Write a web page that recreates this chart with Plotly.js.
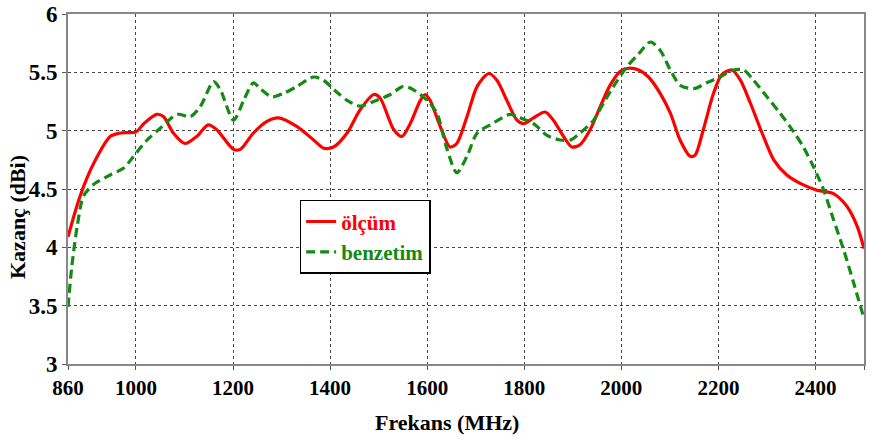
<!DOCTYPE html>
<html><head><meta charset="utf-8">
<script src="https://cdn.plot.ly/plotly-3.0.1.min.js"></script>
<style>body{margin:0;background:#fff}#chart{width:884px;height:441px}
#chart text, #chart tspan { font-family: 'Liberation Serif', serif !important; }</style>
</head><body><div id="chart"></div>
<script>
const olcumX = [860,885,913,947,968,1000,1016,1043,1057,1077,1101,1125,1149,1166,1201,1215,1242,1270,1294,1332,1366,1387,1407,1435,1462,1490,1503,1531,1548,1565,1586,1596,1606,1627,1647,1661,1682,1703,1727,1744,1764,1785,1799,1819,1843,1860,1881,1898,1915,1936,1957,1977,1998,2015,2036,2056,2080,2101,2121,2142,2152,2169,2190,2207,2228,2245,2266,2290,2314,2341,2375,2403,2437,2465,2486,2500];
const olcumY = [4.09,4.44,4.72,4.95,4.98,4.99,5.06,5.14,5.12,4.98,4.89,4.95,5.05,5.01,4.84,4.84,4.98,5.08,5.11,5.035,4.92,4.85,4.86,4.98,5.18,5.31,5.28,5.01,4.95,5.06,5.26,5.31,5.26,5.035,4.86,4.89,5.12,5.38,5.49,5.43,5.26,5.09,5.06,5.11,5.16,5.09,4.95,4.86,4.88,5.01,5.21,5.39,5.51,5.535,5.52,5.46,5.32,5.15,4.92,4.78,4.79,5.01,5.32,5.48,5.52,5.435,5.235,4.98,4.75,4.62,4.535,4.49,4.46,4.35,4.18,3.99];
const benzetimX = [860,868,879,892,913,947,975,995,1023,1050,1085,1112,1133,1160,1174,1201,1222,1242,1256,1280,1304,1332,1366,1387,1414,1435,1462,1490,1524,1551,1572,1600,1620,1641,1661,1682,1703,1730,1771,1791,1819,1847,1874,1895,1915,1943,1963,1984,2012,2036,2060,2080,2101,2121,2149,2176,2203,2231,2252,2272,2300,2327,2355,2375,2396,2417,2437,2458,2479,2500];
const benzetimY = [3.49,3.84,4.18,4.44,4.54,4.62,4.68,4.78,4.92,5.02,5.14,5.12,5.21,5.42,5.35,5.09,5.26,5.41,5.36,5.29,5.32,5.38,5.46,5.43,5.33,5.26,5.21,5.25,5.31,5.38,5.35,5.26,5.15,4.84,4.64,4.78,4.98,5.05,5.14,5.11,5.06,4.96,4.92,4.92,4.98,5.09,5.235,5.38,5.55,5.66,5.76,5.69,5.52,5.39,5.36,5.41,5.46,5.52,5.52,5.435,5.29,5.15,4.99,4.86,4.69,4.49,4.24,3.98,3.69,3.39];
const xTicks = [860,1000,1200,1400,1600,1800,2000,2200,2400,2500];
const yTicks = [3,3.5,4,4.5,5,5.5,6];
const seriesNames = ['ölçüm','benzetim'];

const serifFam = 'Liberation Serif';
const traces = [
  {x: olcumX, y: olcumY, type:'scatter', mode:'lines',
   name: '<span style="color:#ff0000"><b>'+seriesNames[0]+'</b></span>',
   line:{color:'#ff0000', width:3.2, shape:'spline', smoothing:0.8}},
  {x: benzetimX, y: benzetimY, type:'scatter', mode:'lines',
   name: '<span style="color:#138a13"><b>'+seriesNames[1]+'</b></span>',
   line:{color:'#138a13', width:3.2, dash:'9px,5px', shape:'spline', smoothing:0.8}}
];
const layout = {
  width:884, height:441,
  margin:{l:68, r:20, t:14, b:77},
  paper_bgcolor:'#fff', plot_bgcolor:'#fff',
  font:{family:serifFam, color:'#000'},
  showlegend:true,
  legend:{x:0.291, y:0.469, xanchor:'left', yanchor:'top',
    bgcolor:'#fff', bordercolor:'#000', borderwidth:1.5,
    font:{family:serifFam, size:21, color:'#000'}, tracegroupgap:4, itemwidth:30},
  xaxis:{range:[860,2500], tickmode:'array', tickvals:xTicks,
    ticktext:xTicks.map(v=>'<b>'+v+'</b>'),
    tickfont:{family:serifFam, size:21, color:'#000'}, ticks:'outside', ticklen:4, tickcolor:'#555',
    showgrid:true, gridcolor:'#444', griddash:'dot', gridwidth:1,
    showline:true, linecolor:'#888', linewidth:2, mirror:true, zeroline:false},
  yaxis:{range:[3,6], tickmode:'array', tickvals:yTicks,
    ticktext:yTicks.map(v=>'<b>'+v+'</b>'),
    tickfont:{family:serifFam, size:23, color:'#000'}, ticks:'outside', ticklen:4, tickcolor:'#555',
    showgrid:true, gridcolor:'#444', griddash:'dot', gridwidth:1,
    showline:true, linecolor:'#888', linewidth:2, mirror:true, zeroline:false},
  annotations:[
    {text:'<b>Frekans (MHz)</b>', xref:'paper', yref:'paper', x:(447-68)/796, y:1-(422-14)/350,
     xanchor:'center', yanchor:'middle', showarrow:false, font:{family:serifFam, size:22, color:'#000'}},
    {text:'<b>Kazanç (dBi)</b>', xref:'paper', yref:'paper', x:(17-68)/796, y:1-(217-14)/350,
     xanchor:'center', yanchor:'middle', showarrow:false, textangle:-90, font:{family:serifFam, size:22, color:'#000'}}
  ]
};
Plotly.newPlot('chart', traces, layout, {displayModeBar:false});
</script></body></html>
